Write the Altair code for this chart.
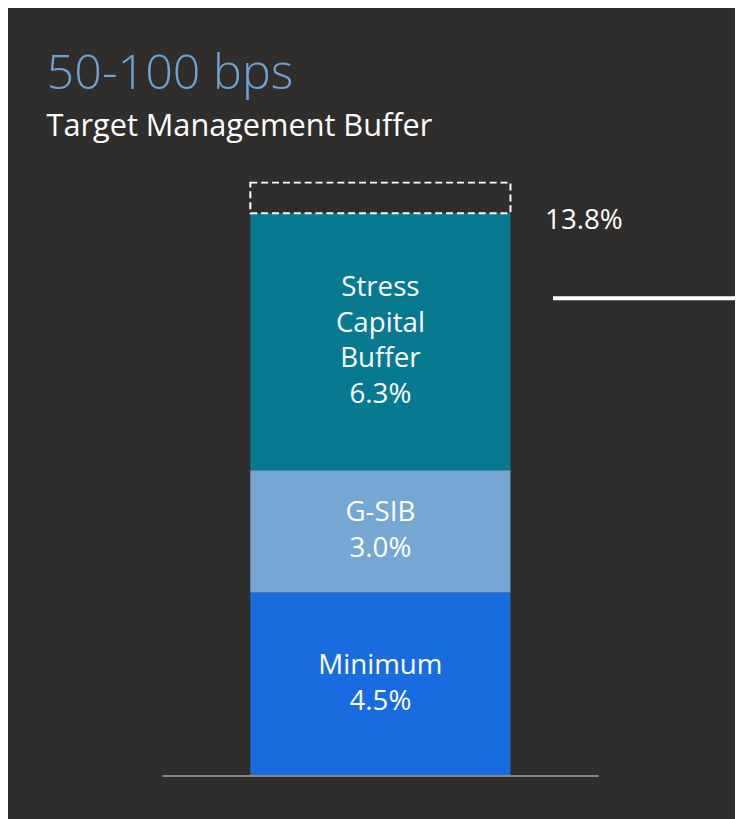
import altair as alt
import pandas as pd

# ---- data ----
components = ["Minimum", "G-SIB", "Stress Capital Buffer"]
label_lines = ["Minimum", "G-SIB", "Stress\nCapital\nBuffer"]
values = [4.5, 3.0, 6.3]
colors = ["#196be0", "#75a7d2", "#077a92"]
buffer_bps = [50, 100]
title_text = "50-100 bps"
subtitle_text = "Target Management Buffer"
bar_name = "CET1"

BG = "#302e2c"
FONT = "Open Sans"
LINE_H = 36

df = pd.DataFrame({
    "bar": [bar_name] * len(components),
    "component": components,
    "lines": label_lines,
    "value": values,
    "order": list(range(len(components))),
})
df["label"] = df["lines"] + "\n" + df["value"].map(lambda v: f"{v:.1f}%")
df["nlines"] = df["label"].str.count("\n") + 1

total = round(sum(values), 1)
buffer_mid = (buffer_bps[0] + buffer_bps[1]) / 2 / 100.0
buf = pd.DataFrame({
    "bar": [bar_name],
    "lo": [total],
    "hi": [total + buffer_mid],
    "total_label": [f"{total:.1f}%"],
})
titles = pd.DataFrame({"t": [title_text], "s": [subtitle_text]})

xs = alt.Scale(domain=[bar_name], range=[245, 508], paddingInner=0, paddingOuter=0)
ys = alt.Scale(domain=[0, total], range=[772, 203], zero=True, nice=False)

base = alt.Chart(df)

bars = base.mark_bar(strokeWidth=0).encode(
    x=alt.X("bar:N", scale=xs, axis=None),
    y=alt.Y("value:Q", stack="zero", scale=ys, axis=None),
    color=alt.Color("component:N", scale=alt.Scale(domain=components, range=colors), legend=None),
    order=alt.Order("order:Q"),
)

stacked = base.transform_stack(
    stack="value", groupby=["bar"], sort=[alt.SortField("order")], as_=["y0", "y1"]
).transform_calculate(
    mid="(datum.y0 + datum.y1) / 2",
)

seg_texts = []
for n in sorted(df["nlines"].unique()):
    seg_texts.append(
        stacked.transform_filter(alt.datum.nlines == int(n)).mark_text(
            font=FONT, fontSize=28, color="#ffffff", align="center", baseline="middle",
            lineBreak="\n", lineHeight=LINE_H, dy=-(int(n) - 1) * LINE_H / 2,
        ).encode(
            x=alt.X("bar:N", scale=xs, axis=None),
            y=alt.Y("mid:Q", scale=ys, axis=None),
            text="label:N",
        )
    )

buf_rect = alt.Chart(buf).mark_bar(
    fill="transparent", stroke="#ffffff", strokeWidth=2, strokeDash=[7, 4]
).encode(
    x=alt.X("bar:N", scale=xs, axis=None),
    y=alt.Y("lo:Q", scale=ys, axis=None),
    y2="hi:Q",
)

total_text = alt.Chart(buf).mark_text(
    font=FONT, fontSize=28, color="#ffffff", align="left", baseline="middle", dy=8
).encode(
    x=alt.value(543),
    y=alt.Y("lo:Q", scale=ys, axis=None),
    text="total_label:N",
)

baseline_rule = alt.Chart(buf).transform_calculate(zero="0").mark_rule(
    color="#8a8681", strokeWidth=2
).encode(
    x=alt.value(156), x2=alt.value(597), y=alt.Y("zero:Q", scale=ys, axis=None)
)

connector = alt.Chart(buf).mark_rule(color="#ffffff", strokeWidth=4).encode(
    x=alt.value(551), x2=alt.value(735), y=alt.value(289)
)

title_mark = alt.Chart(titles).mark_text(
    font=FONT, fontSize=49, fontWeight=300, color="#6fa3d3", align="left", baseline="alphabetic"
).encode(x=alt.value(39), y=alt.value(77), text="t:N")

subtitle_mark = alt.Chart(titles).mark_text(
    font=FONT, fontSize=31, color="#ffffff", align="left", baseline="alphabetic"
).encode(x=alt.value(39), y=alt.value(125), text="s:N")

chart = alt.layer(
    bars, buf_rect, *seg_texts, total_text, baseline_rule, connector, title_mark, subtitle_mark
).properties(
    width=735, height=811, autosize=alt.AutoSizeParams(type="none"), padding=0,
    background=BG,
).configure_view(stroke=None)

chart.save("out.html", embed_options={"renderer": "svg", "actions": False})
